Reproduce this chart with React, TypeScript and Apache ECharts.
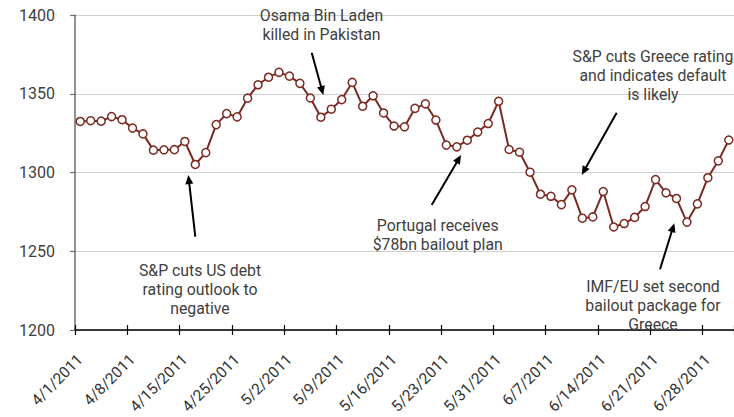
import React, { useEffect, useRef } from "react";
import * as echarts from "echarts";

const dates: string[] = [
  "4/1/2011", "4/4/2011", "4/5/2011", "4/6/2011", "4/7/2011", "4/8/2011",
  "4/11/2011", "4/12/2011", "4/13/2011", "4/14/2011", "4/15/2011",
  "4/18/2011", "4/19/2011", "4/20/2011", "4/21/2011", "4/25/2011",
  "4/26/2011", "4/27/2011", "4/28/2011", "4/29/2011",
  "5/2/2011", "5/3/2011", "5/4/2011", "5/5/2011", "5/6/2011",
  "5/9/2011", "5/10/2011", "5/11/2011", "5/12/2011", "5/13/2011",
  "5/16/2011", "5/17/2011", "5/18/2011", "5/19/2011", "5/20/2011",
  "5/23/2011", "5/24/2011", "5/25/2011", "5/26/2011", "5/27/2011",
  "5/31/2011", "6/1/2011", "6/2/2011", "6/3/2011", "6/6/2011",
  "6/7/2011", "6/8/2011", "6/9/2011", "6/10/2011", "6/13/2011",
  "6/14/2011", "6/15/2011", "6/16/2011", "6/17/2011", "6/20/2011",
  "6/21/2011", "6/22/2011", "6/23/2011", "6/24/2011", "6/27/2011",
  "6/28/2011", "6/29/2011", "6/30/2011",
];

const closes: number[] = [
  1332.4, 1332.9, 1332.6, 1335.5, 1333.5, 1328.2,
  1324.5, 1314.2, 1314.4, 1314.5, 1319.7,
  1305.1, 1312.6, 1330.4, 1337.4, 1335.3,
  1347.2, 1355.7, 1360.5, 1363.6,
  1361.2, 1356.6, 1347.3, 1335.1, 1340.2,
  1346.3, 1357.2, 1342.1, 1348.7, 1337.8,
  1329.5, 1329.0, 1340.7, 1343.6, 1333.3,
  1317.4, 1316.3, 1320.5, 1325.7, 1331.1,
  1345.2, 1314.6, 1312.9, 1300.2, 1286.2,
  1284.9, 1279.6, 1289.0, 1271.0, 1271.8,
  1287.9, 1265.4, 1267.6, 1271.5, 1278.4,
  1295.5, 1287.1, 1283.5, 1268.5, 1280.1,
  1296.7, 1307.4, 1320.6,
];

const yMin = 1200;
const yMax = 1400;
const yStep = 50;

const annotationTexts: string[][] = [
  ["Osama Bin Laden", "killed in Pakistan"],
  ["S&P cuts US debt", "rating outlook to", "negative"],
  ["Portugal receives", "$78bn bailout plan"],
  ["S&P cuts Greece rating", "and indicates default", "is likely"],
  ["IMF/EU set second", "bailout package for", "Greece"],
];

// layout of the annotations (pixel positions)
const annotationLayout = [
  { cx: 321.5, firstY: 15, tail: [311.7, 52.7], tip: [323.3, 95] },
  { cx: 200, firstY: 270, tail: [195.3, 236.7], tip: [188.3, 175] },
  { cx: 437.7, firstY: 225, tail: [431.7, 205], tip: [461, 155] },
  { cx: 653, firstY: 56, tail: [616.7, 112.7], tip: [581.7, 175] },
  { cx: 653, firstY: 286, tail: [660, 269.3], tip: [674.3, 223.3] },
];

const FONT = "Roboto, 'Liberation Sans', sans-serif";
const TEXT_COLOR = "#404040";
const LINE_COLOR = "#7b2a22";

function buildGraphics() {
  const els: any[] = [];
  const lh = 19;
  annotationTexts.forEach((lines, i) => {
    const L = annotationLayout[i];
    els.push({
      type: "text",
      x: L.cx,
      y: L.firstY - lh / 2,
      z: 100,
      style: {
        text: lines.join("\n"),
        align: "center",
        verticalAlign: "top",
        lineHeight: lh,
        font: `15.8px ${FONT}`,
        fill: TEXT_COLOR,
      },
    });
    const [tx, ty] = L.tail;
    const [hx, hy] = L.tip;
    const dx = hx - tx;
    const dy = hy - ty;
    const len = Math.sqrt(dx * dx + dy * dy);
    const ux = dx / len;
    const uy = dy / len;
    const headLen = 9;
    const headHalf = 4;
    const bx = hx - ux * headLen;
    const by = hy - uy * headLen;
    els.push({
      type: "line",
      z: 100,
      shape: { x1: tx, y1: ty, x2: bx + ux * 1, y2: by + uy * 1 },
      style: { stroke: "#000", lineWidth: 2 },
    });
    els.push({
      type: "polygon",
      z: 100,
      shape: {
        points: [
          [hx, hy],
          [bx - uy * headHalf, by + ux * headHalf],
          [bx + uy * headHalf, by - ux * headHalf],
        ],
      },
      style: { fill: "#000" },
    });
  });
  return els;
}

export default function App() {
  const ref = useRef<HTMLDivElement>(null);
  useEffect(() => {
    if (!ref.current) return;
    const chart = echarts.init(ref.current, undefined, { renderer: "svg" });
    chart.setOption({
      animation: false,
      backgroundColor: "#ffffff",
      grid: { left: 75, right: -4, top: 15, bottom: 87, containLabel: false },
      xAxis: [
        {
          type: "category",
          data: dates,
          boundaryGap: true,
          axisLine: { show: true, lineStyle: { color: "#000", width: 1.5 } },
          axisTick: {
            show: true,
            interval: 4,
            length: 5,
            lineStyle: { color: "#000", width: 1.2 },
          },
          axisLabel: {
            interval: 4,
            rotate: 45,
            margin: 27,
            color: "#333",
            fontFamily: FONT,
            fontSize: 15.5,
          },
          splitLine: { show: false },
        },
        {
          type: "category",
          data: dates,
          position: "bottom",
          boundaryGap: true,
          axisLine: { show: false },
          axisTick: {
            show: true,
            inside: true,
            interval: 4,
            length: 5,
            lineStyle: { color: "#000", width: 1.2 },
          },
          axisLabel: { show: false },
          splitLine: { show: false },
        },
      ],
      yAxis: {
        type: "value",
        min: yMin,
        max: yMax,
        interval: yStep,
        axisLine: { show: true, lineStyle: { color: "#6e6e6e", width: 1.5 } },
        axisTick: { show: true, length: 5, lineStyle: { color: "#6e6e6e", width: 1.2 } },
        axisLabel: {
          color: TEXT_COLOR,
          fontFamily: FONT,
          fontSize: 16,
          margin: 20,
          formatter: (v: number) => String(v),
        },
        splitLine: { show: true, lineStyle: { color: "#cfcfcf", width: 1 } },
      },
      series: [
        {
          type: "line",
          data: closes,
          xAxisIndex: 0,
          symbol: "circle",
          symbolSize: 8,
          showSymbol: true,
          showAllSymbol: true,
          lineStyle: { color: LINE_COLOR, width: 2 },
          itemStyle: { color: "#ffffff", borderColor: LINE_COLOR, borderWidth: 1.5 },
          z: 5,
        },
      ],
      graphic: buildGraphics(),
    });
    return () => chart.dispose();
  }, []);
  return (
    <div
      ref={ref}
      style={{ position: "fixed", left: 0, top: 0, width: 734, height: 417, background: "#fff" }}
    />
  );
}
